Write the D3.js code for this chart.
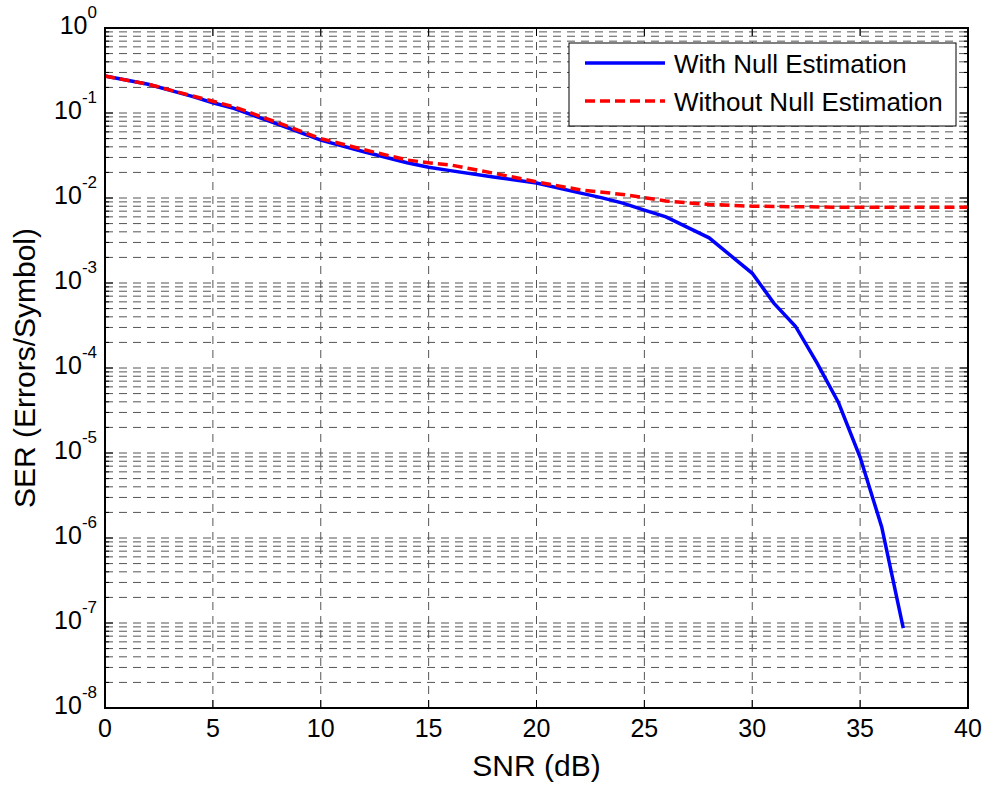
<!DOCTYPE html>
<html>
<head>
<meta charset="utf-8">
<script src="https://cdn.jsdelivr.net/npm/d3@7"></script>
<style>
  body { margin: 0; background: #fff; }
  text { font-family: "Liberation Sans", Arial, sans-serif; }
</style>
</head>
<body>
<div id="chart"></div>
<script>
var snrWith = [0, 2, 4, 5, 6, 8, 10, 12, 14, 15, 16, 18, 20, 22, 23, 24, 25, 26, 28, 30, 31, 32, 33, 34, 35, 36, 37];
var serWith = [0.272, 0.218, 0.158, 0.132, 0.113, 0.074, 0.048, 0.035, 0.026, 0.023, 0.021, 0.0177, 0.015, 0.0115, 0.0101,
  0.0087, 0.0072, 0.006, 0.0034, 0.0013, 0.00058, 0.00031, 0.000115, 0.000039, 0.0000089, 0.00000135, 0.000000087];

var snrWithout = [0, 2, 4, 6, 8, 10, 12, 14, 15, 16, 18, 20, 22, 24, 25, 26, 28, 30, 32, 34, 36, 38, 40];
var serWithout = [0.272, 0.218, 0.16, 0.118, 0.077, 0.05, 0.037, 0.028, 0.026, 0.0245, 0.0196, 0.0155, 0.0125,
  0.011, 0.0101, 0.0092, 0.0084, 0.008, 0.0079, 0.0078, 0.0078, 0.0078, 0.0078];

var xTicks = [0, 5, 10, 15, 20, 25, 30, 35, 40];
var yExponents = [0, -1, -2, -3, -4, -5, -6, -7, -8];
var legendLabels = ["With Null Estimation", "Without Null Estimation"];

var width = 987, height = 787;
var margin = {left: 105, right: 19, top: 28, bottom: 79};
var plotW = width - margin.left - margin.right;
var plotH = height - margin.top - margin.bottom;

var svg = d3.select("#chart").append("svg")
  .attr("width", width)
  .attr("height", height);

var x = d3.scaleLinear().domain([0, 40]).range([0, plotW]);
var y = d3.scaleLog().domain([1e-8, 1]).range([plotH, 0]);

var g = svg.append("g").attr("transform", "translate(" + margin.left + "," + margin.top + ")");

// minor + major y values for grid
var yGrid = [];
yExponents.forEach(function(e) {
  if (e === 0) return;
  for (var m = 1; m <= 9; m++) yGrid.push(m * Math.pow(10, e));
});
yGrid.push(1);

var grid = g.append("g").attr("class", "grid")
  .attr("stroke", "#555")
  .attr("stroke-width", 1)
  .attr("stroke-dasharray", "8,6");

grid.selectAll(".hgrid")
  .data(yGrid.filter(function(v) { return v > 1e-8 && v < 1; }))
  .enter().append("line")
  .attr("x1", 0).attr("x2", plotW)
  .attr("y1", function(d) { return y(d); })
  .attr("y2", function(d) { return y(d); });

grid.selectAll(".vgrid")
  .data(xTicks.slice(1, -1))
  .enter().append("line")
  .attr("y1", 0).attr("y2", plotH)
  .attr("x1", function(d) { return x(d); })
  .attr("x2", function(d) { return x(d); });

// ticks inside on all sides
var ticks = g.append("g").attr("stroke", "#000").attr("stroke-width", 1);
xTicks.forEach(function(t) {
  ticks.append("line").attr("x1", x(t)).attr("x2", x(t)).attr("y1", plotH).attr("y2", plotH - 8);
  ticks.append("line").attr("x1", x(t)).attr("x2", x(t)).attr("y1", 0).attr("y2", 8);
});
yGrid.forEach(function(v) {
  var len = Number.isInteger(Math.log10(v)) ? 8 : 4;
  ticks.append("line").attr("x1", 0).attr("x2", len).attr("y1", y(v)).attr("y2", y(v));
  ticks.append("line").attr("x1", plotW).attr("x2", plotW - len).attr("y1", y(v)).attr("y2", y(v));
});

// lines
var lineWith = d3.line()
  .x(function(d, i) { return x(snrWith[i]); })
  .y(function(d) { return y(d); });
var lineWithout = d3.line()
  .x(function(d, i) { return x(snrWithout[i]); })
  .y(function(d) { return y(d); });

g.append("path").datum(serWith)
  .attr("d", lineWith)
  .attr("fill", "none")
  .attr("stroke", "#0000ff")
  .attr("stroke-width", 3.5);

g.append("path").datum(serWithout)
  .attr("d", lineWithout)
  .attr("fill", "none")
  .attr("stroke", "#ff0000")
  .attr("stroke-width", 3.5)
  .attr("stroke-dasharray", "10,5");

// box
g.append("rect")
  .attr("x", 0).attr("y", 0)
  .attr("width", plotW).attr("height", plotH)
  .attr("fill", "none")
  .attr("stroke", "#000")
  .attr("stroke-width", 2);

// x tick labels
g.selectAll(".xlab")
  .data(xTicks)
  .enter().append("text")
  .attr("x", function(d) { return x(d); })
  .attr("y", plotH + 29)
  .attr("text-anchor", "middle")
  .attr("font-size", 25)
  .text(function(d) { return d; });

// y tick labels: 10 with superscript exponent
var ylab = g.selectAll(".ylab")
  .data(yExponents)
  .enter().append("text")
  .attr("x", -8)
  .attr("y", function(d) { return y(Math.pow(10, d)) + 6; })
  .attr("text-anchor", "end")
  .attr("font-size", 25);
ylab.append("tspan").text("10");
ylab.append("tspan")
  .attr("dy", -16)
  .attr("font-size", 17)
  .text(function(d) { return d; });

// axis titles
svg.append("text")
  .attr("x", margin.left + plotW / 2)
  .attr("y", 776)
  .attr("text-anchor", "middle")
  .attr("font-size", 30)
  .text("SNR (dB)");

svg.append("text")
  .attr("transform", "translate(35," + (margin.top + plotH / 2) + ") rotate(-90)")
  .attr("text-anchor", "middle")
  .attr("font-size", 30)
  .text("SER (Errors/Symbol)");

// legend
var legend = svg.append("g").attr("transform", "translate(569,43)");
legend.append("rect")
  .attr("width", 387).attr("height", 83)
  .attr("fill", "#fff")
  .attr("stroke", "#000")
  .attr("stroke-width", 1);

var styles = [
  {color: "#0000ff", dash: null},
  {color: "#ff0000", dash: "10,5"}
];
legendLabels.forEach(function(label, i) {
  var ly = 20 + i * 38;
  legend.append("line")
    .attr("x1", 16).attr("x2", 96)
    .attr("y1", ly).attr("y2", ly)
    .attr("stroke", styles[i].color)
    .attr("stroke-width", 3.5)
    .attr("stroke-dasharray", styles[i].dash);
  legend.append("text")
    .attr("x", 105)
    .attr("y", ly + 10)
    .attr("font-size", 26)
    .text(label);
});
</script>
</body>
</html>
